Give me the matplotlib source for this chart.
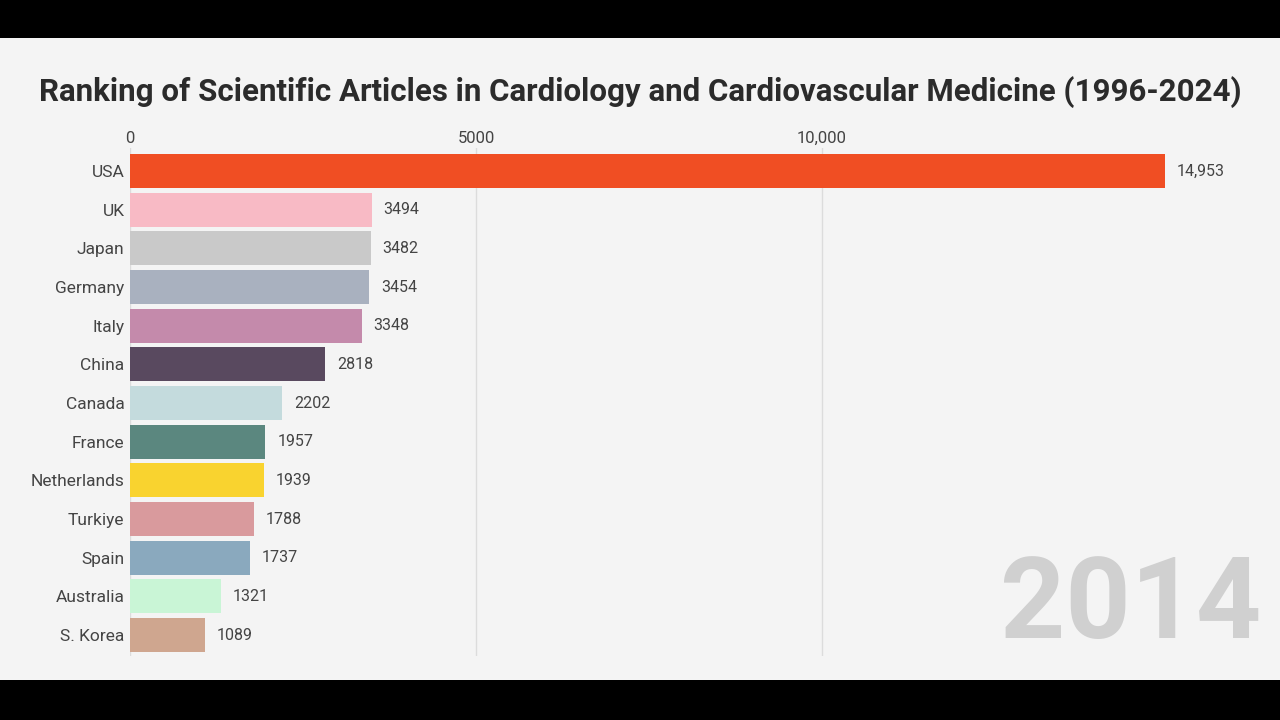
import matplotlib.pyplot as plt
from matplotlib.patches import Rectangle
from matplotlib.ticker import FuncFormatter

countries = ["USA", "UK", "Japan", "Germany", "Italy", "China", "Canada",
             "France", "Netherlands", "Turkiye", "Spain", "Australia", "S. Korea"]
articles = [14953, 3494, 3482, 3454, 3348, 2818, 2202, 1957, 1939, 1788, 1737, 1321, 1089]
colors = ["#f04e23", "#f8bac5", "#c9c9c9", "#a9b1bf", "#c48aab", "#59495f", "#c4dbdd",
          "#5b877f", "#f9d32f", "#d99a9d", "#8aa9be", "#c9f5d6", "#cfa68f"]
year = "2014"
title = "Ranking of Scientific Articles in Cardiology and Cardiovascular Medicine (1996-2024)"

W, H = 1280, 720
fig = plt.figure(figsize=(W / 100, H / 100), dpi=100, facecolor="black")
# light panel between the black letterbox strips
fig.patches.append(Rectangle((0, 40 / H), 1, 642 / H, transform=fig.transFigure,
                             facecolor="#f4f4f4", edgecolor="none", zorder=-5))

xmax = 15500
px_per_unit = (476 - 130) / 5000
ax_w = xmax * px_per_unit
ax = fig.add_axes([130 / W, (H - 656) / H, ax_w / W, 508.2 / H])
ax.set_facecolor("none")

ypos = list(range(len(countries)))
ax.barh(ypos, articles, height=0.88, color=colors, zorder=2)
for y, v in zip(ypos, articles):
    ax.text(v + 170, y, f"{v:,}" if v >= 10000 else str(v), va="center", ha="left",
            fontsize=11.5, color="#444444", family="Roboto")

ax.set_xlim(0, xmax)
ax.set_ylim(12.54, -0.6)
ax.set_yticks(ypos)
ax.set_yticklabels(countries, fontsize=12.5, color="#444444", family="Roboto")
ax.set_xticks([0, 5000, 10000])
ax.xaxis.set_major_formatter(FuncFormatter(lambda x, p: f"{int(x):,}" if x >= 10000 else str(int(x))))
ax.xaxis.tick_top()
ax.tick_params(axis="both", length=0)
ax.tick_params(axis="y", pad=4)
ax.tick_params(axis="x", pad=1.5, labelsize=12, labelcolor="#444444")
for lbl in ax.get_xticklabels():
    lbl.set_family("Roboto")
ax.grid(axis="x", color="#dcdcdc", linewidth=1, zorder=0)
ax.grid(axis="y", visible=False)
ax.set_axisbelow(True)
for s in ax.spines.values():
    s.set_visible(False)

fig.text(640 / W, (H - 92) / H, title, ha="center", va="center", fontsize=22.5,
         fontweight="bold", color="#2b2b2b", family="Roboto")
fig.text(1261 / W, (H - 638) / H, year, ha="right", va="baseline", fontsize=82,
         fontweight="bold", color="#d0d0d0", family="Roboto")

fig.savefig("out.png", dpi=100, facecolor=fig.get_facecolor())
